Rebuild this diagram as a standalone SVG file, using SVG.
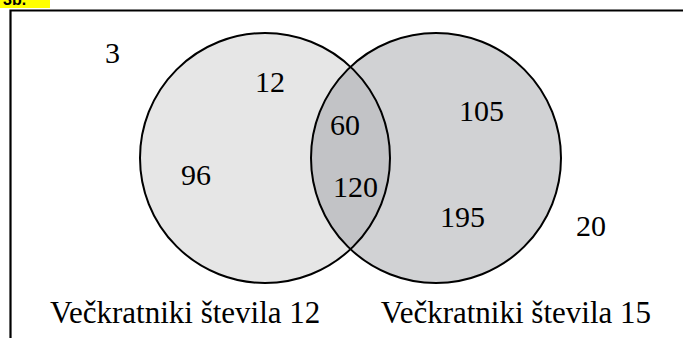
<svg xmlns="http://www.w3.org/2000/svg" width="683" height="338" viewBox="0 0 683 338">
<style>
.t{font-family:'Liberation Serif','Times New Roman',serif;font-size:30px;fill:#000}
.lbl{font-size:31px}
.c{stroke:#000;stroke-width:2}
</style>
<defs>
<clipPath id="clipA"><circle cx="265" cy="158" r="125"/></clipPath>
</defs>
<rect width="683" height="338" fill="#fff"/>
<g id="tag">
<rect x="0" y="0" width="50" height="8" fill="#ffff00"/>
<text x="3" y="5" font-family="Liberation Sans, Arial, sans-serif" font-size="16" font-weight="bold">3b.</text>
</g>
<path id="frame" d="M10.5,338 V10.5 H683" fill="none" stroke="#000" stroke-width="2.2"/>
<g id="setA">
<circle cx="265" cy="158" r="125" fill="#e6e6e6"/>
</g>
<g id="setB">
<circle cx="436" cy="158" r="125" fill="#d1d2d4"/>
</g>
<g id="intersection">
<circle cx="436" cy="158" r="125" fill="#c2c3c6" clip-path="url(#clipA)"/>
</g>
<g id="outlines" fill="none">
<circle class="c" cx="265" cy="158" r="125"/>
<circle class="c" cx="436" cy="158" r="125"/>
</g>
<g id="numbers">
<text class="t" x="105" y="63">3</text>
<text class="t" x="255" y="92">12</text>
<text class="t" x="181" y="185">96</text>
<text class="t" x="330" y="135">60</text>
<text class="t" x="333" y="197">120</text>
<text class="t" x="459" y="121">105</text>
<text class="t" x="440" y="227">195</text>
<text class="t" x="576" y="236">20</text>
</g>
<g id="labels">
<text class="t lbl" x="50" y="323">Večkratniki števila 12</text>
<text class="t lbl" x="651" y="323" text-anchor="end">Večkratniki števila 15</text>
</g>
</svg>
